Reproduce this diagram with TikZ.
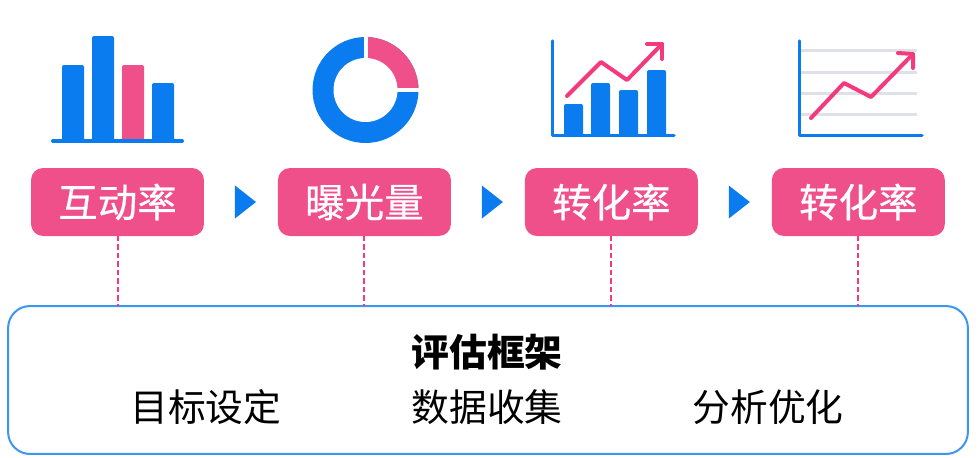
\documentclass[tikz,border=0pt]{standalone}
\usepackage{fontspec}
\setmainfont{Noto Sans CJK SC}
\newfontfamily\labelfont[FakeBold=0.5]{Noto Sans CJK SC}
\usepackage{xcolor}
\usetikzlibrary{%
  positioning, shapes.geometric
}
\definecolor{iconblue}{HTML}{0A7CF0}
\definecolor{labelpink}{HTML}{F0508A}
\definecolor{linepink}{HTML}{F23A7C}
\definecolor{gridgray}{HTML}{E0E1E6}
\definecolor{panelblue}{HTML}{3C96F0}

\begin{document}
\begin{tikzpicture}[%
    x=0.02cm, y=-0.02cm,
    every node/.style={%
      text centered,
      align=center,
      inner sep=0pt,
      outer sep=0pt
    },
    metric/.style={%
      fill=labelpink, text=white, rounded corners=0.24cm,
      minimum width=3.46cm, minimum height=1.36cm,
      font=\labelfont\fontsize{22.5pt}{22.5pt}\selectfont
    },
    flowtip/.style={%
      isosceles triangle, isosceles triangle stretches, fill=iconblue,
      minimum width=0.66cm, minimum height=0.42cm
    },
    tie/.style={draw=linepink, line width=0.04cm, dash pattern=on 0.11cm off 0.06cm},
    axisline/.style={draw=iconblue, line width=0.07cm, line cap=round, line join=round},
    trend/.style={draw=linepink, line width=0.08cm, line cap=round, line join=round},
    gridline/.style={draw=gridgray, line width=0.06cm, line cap=round},
    bar/.style={fill=#1, rounded corners=0.04cm}
  ]

  \useasboundingbox (0,0) rectangle (980,457);

  % Labels
  \node[metric] (m1) at (117.5,202) {互动率};
  \node[flowtip, right=0.62cm of m1] (f1) {};
  \node[metric, right=1.48cm of m1] (m2) {曝光量};
  \node[flowtip, right=0.62cm of m2] (f2) {};
  \node[metric, right=1.48cm of m2] (m3) {转化率};
  \node[flowtip, right=0.62cm of m3] (f3) {};
  \node[metric, right=1.48cm of m3] (m4) {转化率};

  % Frame
  \node[draw=panelblue, line width=0.04cm, rounded corners=0.44cm, fill=white,
    minimum width=19.2cm, minimum height=2.96cm] (panel) at (488,380) {};
  \node[font=\fontsize{21.5pt}{21.5pt}\selectfont\bfseries] (title) at (487,352) {评估框架};
  \node[font=\fontsize{21.5pt}{21.5pt}\selectfont] (s2) at (487,407) {数据收集};
  \node[font=\fontsize{21.5pt}{21.5pt}\selectfont, left=2.6cm of s2] (s1) {目标设定};
  \node[font=\fontsize{21.5pt}{21.5pt}\selectfont, right=2.6cm of s2] (s3) {分析优化};

  % Dashed ties
  \foreach \m in {m1,m2,m3,m4}
    \draw[tie] (\m.south) -- (\m.south |- panel.north);

  % Bars
  \foreach \l/\t/\c in {62/65/iconblue,92/36/iconblue,122/65/labelpink,152/83/iconblue}
    \fill[bar=\c] (\l,141) -- (\l,\t) -- (\l+22,\t) -- (\l+22,141) -- cycle;
  \draw[axisline, line width=0.08cm] (53,141) -- (182,141);

  % Donut
  \coordinate (dc) at (365.5,90);
  \fill[iconblue] (dc) circle[radius=1.06cm];
  \fill[labelpink] (dc) -- ++(90:1.06cm) arc[start angle=90, end angle=0, radius=1.06cm] -- cycle;
  \draw[white, line width=0.08cm] (dc) -- ++(90:1.12cm);
  \draw[white, line width=0.08cm] (dc) -- ++(0:1.12cm);
  \fill[white] (dc) circle[radius=0.64cm];

  % Bars with trend
  \foreach \l/\t in {564/104,591/83,619/90,647/70}
    \fill[bar=iconblue] (\l,136) -- (\l,\t) -- (\l+19,\t) -- (\l+19,136) -- cycle;
  \draw[axisline] (552.5,41) -- (552.5,135.5) -- (674,135.5);
  \draw[trend] (567,96) -- (601,62) -- (627,80) -- (662,44);
  \draw[trend] (647,44) -- (662,44) -- (662,59);

  % Lines with trend
  \foreach \y in {50,72,93,114}
    \draw[gridline] (801,\y) -- (916,\y);
  \draw[axisline] (799.5,41) -- (799.5,135.5) -- (922,135.5);
  \draw[trend] (811,118) -- (844,83) -- (871,97) -- (913,54);
  \draw[trend] (898,53) -- (913,54) -- (913,68);

\end{tikzpicture}
\end{document}
